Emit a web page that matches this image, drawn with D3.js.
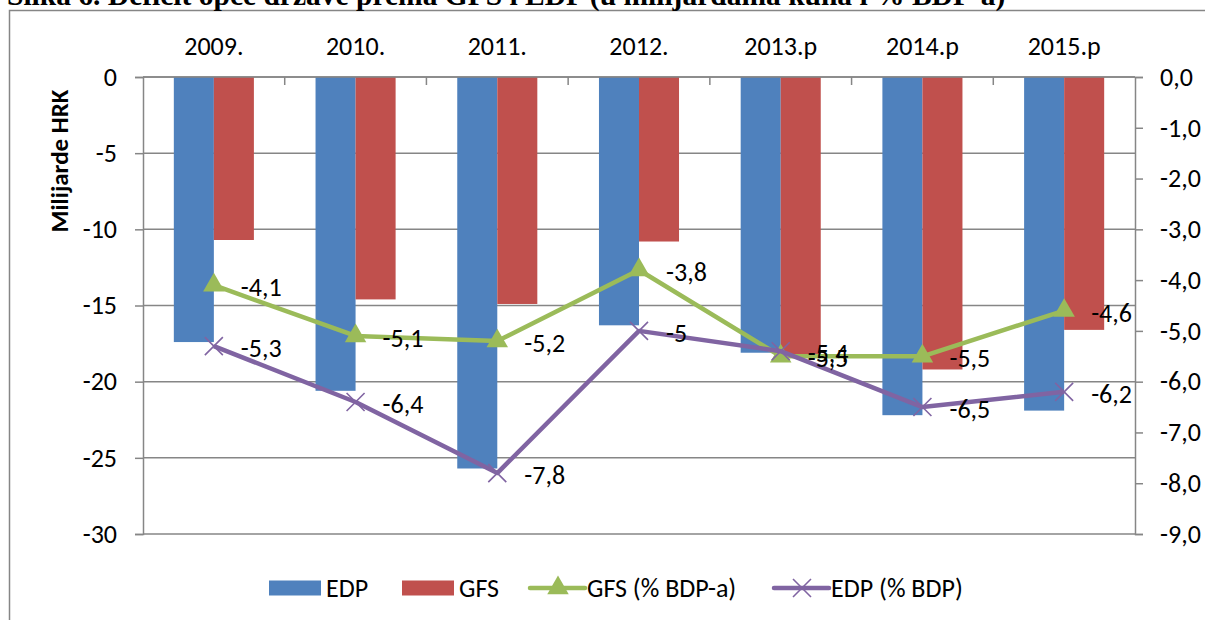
<!DOCTYPE html>
<html><head><meta charset="utf-8">
<script src="https://cdn.jsdelivr.net/npm/d3@7"></script>
<style>
body{margin:0;background:#fff;}
svg{display:block;}
text{font-family:Carlito, Lato, sans-serif;fill:#000;}
</style></head>
<body>
<svg id="chart" width="1205" height="620"></svg>
<script>
const categories = ["2009.","2010.","2011.","2012.","2013.p","2014.p","2015.p"];
const edpBars = [-17.4,-20.6,-25.7,-16.3,-18.1,-22.2,-21.9];
const gfsBars = [-10.7,-14.6,-14.9,-10.8,-18.4,-19.2,-16.6];
const gfsPct = [-4.1,-5.1,-5.2,-3.8,-5.5,-5.5,-4.6];
const edpPct = [-5.3,-6.4,-7.8,-5.0,-5.4,-6.5,-6.2];
const leftTicks = [0,-5,-10,-15,-20,-25,-30];
const rightTicks = [0,-1,-2,-3,-4,-5,-6,-7,-8,-9];
const barSeries = ["EDP","GFS"];
const colors = {EDP:"#4F81BD", GFS:"#C0504D", gfsLine:"#9BBB59", edpLine:"#8064A2"};

const svg = d3.select("#chart");
const L = 143, R = 1135, T = 77, B = 534;
const grid = "#868686";
const FS = "26px";

// outer frame & title
svg.append("rect").attr("x",9.5).attr("y",10.5).attr("width",1300).attr("height",700)
  .attr("fill","none").attr("stroke",grid).attr("stroke-width",1.5);
svg.append("text").attr("x",7).attr("y",5)
  .style("font-family","'Liberation Serif', 'Times New Roman', serif")
  .style("font-weight","bold").style("font-size","29.5px")
  .text("Slika 6. Deficit opće države prema GFS i EDP (u milijardama kuna i % BDP-a)");

const x0 = d3.scaleBand().domain(categories).range([L,R]).padding(0);
const x1 = d3.scaleBand().domain(barSeries).range([0,x0.bandwidth()]).paddingInner(0).paddingOuter(0.77);
const yL = d3.scaleLinear().domain([-30,0]).range([B,T]);
const yR = d3.scaleLinear().domain([-9,0]).range([B,T]);
const cx = c => x0(c) + x0.bandwidth()/2;

// gridlines
svg.append("g").selectAll("line").data(leftTicks).join("line")
  .attr("x1",L).attr("x2",R).attr("y1",d=>yL(d)).attr("y2",d=>yL(d))
  .attr("stroke",grid).attr("stroke-width",1.5);

// bars
const barData = categories.map((c,i)=>({c, vals:[{s:"EDP",v:edpBars[i]},{s:"GFS",v:gfsBars[i]}]}));
svg.append("g").selectAll("g").data(barData).join("g")
  .attr("transform",d=>`translate(${x0(d.c)},0)`)
  .selectAll("rect").data(d=>d.vals).join("rect")
  .attr("x",d=>x1(d.s)).attr("width",x1.bandwidth())
  .attr("y",yL(0)).attr("height",d=>yL(d.v)-yL(0))
  .attr("fill",d=>colors[d.s]);

// left axis
const fmtL = d => String(d);
const axL = svg.append("g").attr("transform",`translate(${L},0)`)
  .call(d3.axisLeft(yL).tickValues(leftTicks).tickSize(8).tickPadding(18).tickFormat(fmtL));
axL.select(".domain").attr("stroke",grid).attr("stroke-width",1.5);
axL.selectAll(".tick line").attr("stroke",grid).attr("stroke-width",1.5);
axL.selectAll(".tick text").style("font-size",FS).style("font-family","Carlito, Lato, sans-serif").attr("fill","#000");

// right axis
const fmtR = d => d.toFixed(1).replace(".",",");
const axR = svg.append("g").attr("transform",`translate(${R},0)`)
  .call(d3.axisRight(yR).tickValues(rightTicks).tickSize(8).tickPadding(17).tickFormat(fmtR));
axR.select(".domain").attr("stroke",grid).attr("stroke-width",1.5);
axR.selectAll(".tick line").attr("stroke",grid).attr("stroke-width",1.5);
axR.selectAll(".tick text").style("font-size",FS).style("font-family","Carlito, Lato, sans-serif").attr("fill","#000");

// top category axis at zero
const axT = svg.append("g").attr("transform",`translate(0,${T})`)
  .call(d3.axisTop(x0).tickSize(0).tickPadding(22));
axT.select(".domain").remove();
axT.selectAll(".tick text").style("font-size",FS).style("font-family","Carlito, Lato, sans-serif").attr("fill","#000");
svg.append("g").selectAll("line").data(categories.slice(1)).join("line")
  .attr("x1",d=>x0(d)).attr("x2",d=>x0(d)).attr("y1",T).attr("y2",T+8)
  .attr("stroke",grid).attr("stroke-width",1.5);
svg.append("line").attr("x1",L).attr("x2",R).attr("y1",T).attr("y2",T).attr("stroke",grid).attr("stroke-width",1.5);

// y-axis title
svg.append("text").attr("transform","translate(68,161) rotate(-90)")
  .attr("text-anchor","middle").style("font-weight","bold").style("font-size","25px")
  .text("Milijarde HRK");

// lines
const lineGen = d3.line().x(d=>cx(d.c)).y(d=>yR(d.v));
const gfsData = categories.map((c,i)=>({c,v:gfsPct[i]}));
const edpData = categories.map((c,i)=>({c,v:edpPct[i]}));
const tri = d3.symbol().type(d3.symbolTriangle).size(200);
const fmtLbl = d => String(d).replace(".",",");
const xMark = "M-9,-9L9,9M-9,9L9,-9";

svg.append("path").datum(gfsData).attr("d",lineGen).attr("fill","none")
  .attr("stroke",colors.gfsLine).attr("stroke-width",4.5).attr("stroke-linejoin","round");
svg.append("g").selectAll("path").data(gfsData).join("path")
  .attr("d",tri).attr("transform",d=>`translate(${cx(d.c)},${yR(d.v)})`).attr("fill",colors.gfsLine);

svg.append("path").datum(edpData).attr("d",lineGen).attr("fill","none")
  .attr("stroke",colors.edpLine).attr("stroke-width",4.5).attr("stroke-linejoin","round");
svg.append("g").selectAll("path").data(edpData).join("path")
  .attr("d",xMark).attr("transform",d=>`translate(${cx(d.c)},${yR(d.v)})`)
  .attr("stroke",colors.edpLine).attr("stroke-width",1.6).attr("fill","none");

// data labels
const lbl = svg.append("g");
[gfsData, edpData].forEach(ds=>{
  lbl.selectAll(null).data(ds).join("text")
    .attr("x",d=>cx(d.c)+27).attr("y",d=>yR(d.v)+2).attr("dy","0.35em")
    .style("font-size",FS).text(d=>fmtLbl(d.v));
});

// legend
const lg = svg.append("g");
const ly = 588;
const legendItems = [
  {type:"rect", color:colors.EDP, label:"EDP", x:269},
  {type:"rect", color:colors.GFS, label:"GFS", x:402},
  {type:"tri", color:colors.gfsLine, label:"GFS (% BDP-a)", x:530},
  {type:"x", color:colors.edpLine, label:"EDP (% BDP)", x:774}
];
legendItems.forEach(it=>{
  if(it.type==="rect"){
    lg.append("rect").attr("x",it.x).attr("y",ly-7.5).attr("width",52).attr("height",15).attr("fill",it.color);
  } else {
    lg.append("line").attr("x1",it.x).attr("x2",it.x+55).attr("y1",ly).attr("y2",ly)
      .attr("stroke",it.color).attr("stroke-width",4.5).attr("stroke-linecap","round");
    if(it.type==="tri") lg.append("path").attr("d",tri).attr("transform",`translate(${it.x+28},${ly})`).attr("fill",it.color);
    else lg.append("path").attr("d",xMark).attr("transform",`translate(${it.x+28},${ly})`)
      .attr("stroke",it.color).attr("stroke-width",1.6);
  }
  lg.append("text").attr("x",it.x+(it.type==="rect"?57:57)).attr("y",ly).attr("dy","0.35em")
    .style("font-size",FS).text(it.label);
});
</script>
</body></html>
